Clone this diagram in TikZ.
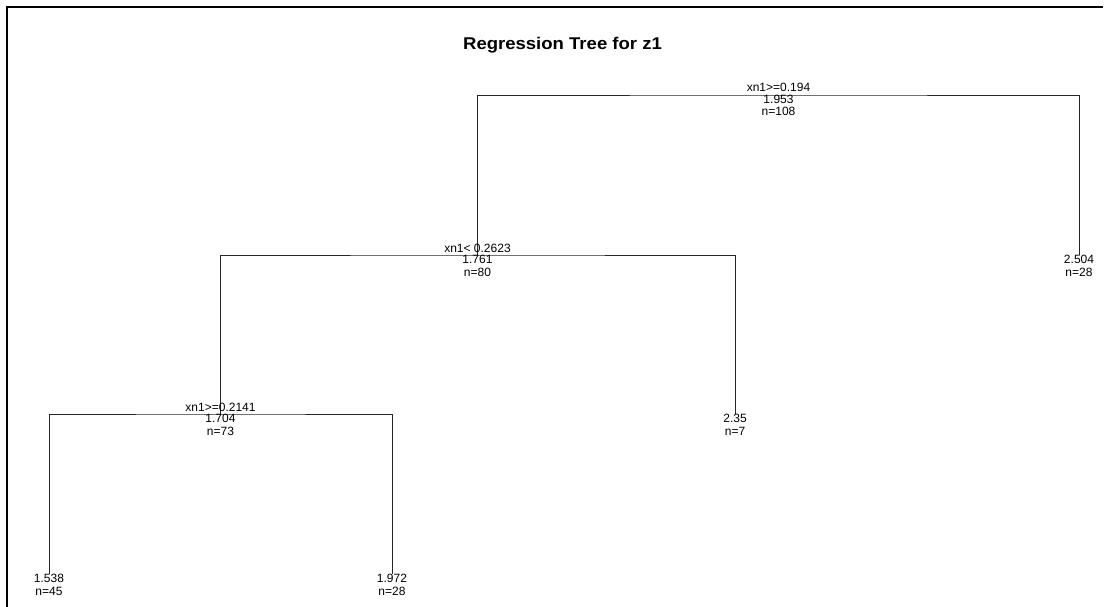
\documentclass[tikz,border=0pt]{standalone}
\usepackage{fontspec}
\setmainfont{Liberation Sans}
\newfontfamily\titlefont[FakeStretch=1.09]{Liberation Sans}
\usetikzlibrary{calc}
\begin{document}
\begin{tikzpicture}[x=1pt,y=-1pt,
  txt/.style={inner sep=0pt,anchor=base,font=\fontsize{12}{12}\selectfont},
  ttl/.style={inner sep=0pt,anchor=base,font=\titlefont\fontsize{17}{18}\selectfont\bfseries},
  branch/.style={draw=black!85,line width=0.9pt},
  frame/.style={draw=black,line width=2.6pt}]
\useasboundingbox (0,0) rectangle (1109,607);
\draw[frame] (7,610) -- (7,7) -- (1103,7);
\node[ttl] (title) at (562.5,49.3) {Regression Tree for z1};
% node positions
\coordinate (n1) at (778.5,95);
\coordinate (n2) at (477.5,255);
\coordinate (n3) at (1079,255);
\coordinate (n4) at (220.5,414);
\coordinate (n5) at (735,414);
\coordinate (n8) at (49,574);
\coordinate (n9) at (392,574);
% connectors
\draw[branch] (n2) |- (n1) -| (n3);
\draw[branch] (n4) |- (n2) -| (n5);
\draw[branch] (n8) |- (n4) -| (n9);
% labels
\node[txt] (n1s) at ($(n1)+(0,-3)$) {xn1>=0.194};
\node[txt] (n1v) at ($(n1)+(0,8.5)$) {1.953};
\node[txt] (n1n) at ($(n1)+(0,21)$) {n=108};
\node[txt] (n2s) at ($(n2)+(0,-3)$) {xn1< 0.2623};
\node[txt] (n2v) at ($(n2)+(0,8.5)$) {1.761};
\node[txt] (n2n) at ($(n2)+(0,21)$) {n=80};
\node[txt] (n3v) at ($(n3)+(0,8.5)$) {2.504};
\node[txt] (n3n) at ($(n3)+(0,21)$) {n=28};
\node[txt] (n4s) at ($(n4)+(0,-3)$) {xn1>=0.2141};
\node[txt] (n4v) at ($(n4)+(0,8.5)$) {1.704};
\node[txt] (n4n) at ($(n4)+(0,21)$) {n=73};
\node[txt] (n5v) at ($(n5)+(0,8.5)$) {2.35};
\node[txt] (n5n) at ($(n5)+(0,21)$) {n=7};
\node[txt] (n8v) at ($(n8)+(0,8.5)$) {1.538};
\node[txt] (n8n) at ($(n8)+(0,21)$) {n=45};
\node[txt] (n9v) at ($(n9)+(0,8.5)$) {1.972};
\node[txt] (n9n) at ($(n9)+(0,21)$) {n=28};
\end{tikzpicture}
\end{document}
